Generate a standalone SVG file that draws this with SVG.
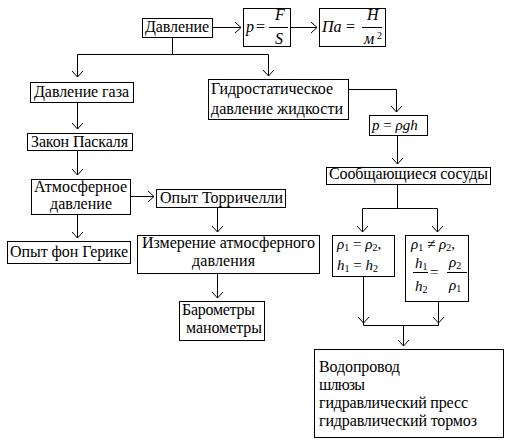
<svg xmlns="http://www.w3.org/2000/svg" width="526" height="446" viewBox="0 0 526 446">
<style>
rect{fill:#fff;stroke:#000;stroke-width:1}
text{font-family:"Liberation Serif","Times New Roman",serif;font-size:16px;fill:#000}
.i{font-style:italic}
.s{font-size:10px}
.m{font-size:15px}
.c path{fill:none;stroke:#000;stroke-width:1}
.bar{stroke:#000;stroke-width:1}
</style>
<defs>
<marker id="a" markerUnits="userSpaceOnUse" viewBox="-8 -8 16 16" markerWidth="16" markerHeight="16" refX="0" refY="0" orient="auto" overflow="visible">
<path d="M-6,-5.5 L0,0 L-6,5.5" fill="none" stroke="#000" stroke-width="1"/>
</marker>
</defs>
<rect width="526" height="446" style="stroke:none"/>
<g class="c" id="connectors">
<path d="M213,27.5 H241" marker-end="url(#a)"/>
<path d="M291,27.5 H317" marker-end="url(#a)"/>
<path d="M172.5,37.5 V54.5"/>
<path d="M172.5,54.5 H77.5 V77" marker-end="url(#a)"/>
<path d="M172.5,54.5 H268.5 V76" marker-end="url(#a)"/>
<path d="M77.5,103 V129" marker-end="url(#a)"/>
<path d="M77.5,151 V175" marker-end="url(#a)"/>
<path d="M77.5,215 V238" marker-end="url(#a)"/>
<path d="M131,196.5 H154" marker-end="url(#a)"/>
<path d="M217.5,208 V232" marker-end="url(#a)"/>
<path d="M217.5,274 V298" marker-end="url(#a)"/>
<path d="M349,89.5 H396.5 V112" marker-end="url(#a)"/>
<path d="M397.5,136 V164" marker-end="url(#a)"/>
<path d="M397.5,185 V208.5"/>
<path d="M397.5,208.5 H362.5 V232" marker-end="url(#a)"/>
<path d="M397.5,208.5 H437.5 V232" marker-end="url(#a)"/>
<path d="M363.5,277 V325.5 H438.5 V302"/>
<path d="M363.5,310 V323" marker-end="url(#a)"/>
<path d="M438.5,310 V323" marker-end="url(#a)"/>
<path d="M403.5,325.5 V346" marker-end="url(#a)"/>
</g>
<g id="n-davlenie"><rect x="142.5" y="18.5" width="70" height="19"/><text x="145" y="32" textLength="64">Давление</text></g>
<g id="n-formula-p"><rect x="243.5" y="8.5" width="47" height="38"/>
<text class="i" x="246" y="32">p</text><text x="256" y="32">=</text>
<text class="i" x="275" y="20">F</text><line class="bar" x1="269" y1="27.5" x2="288" y2="27.5"/><text class="i" x="275" y="44">S</text></g>
<g id="n-formula-pa"><rect x="319.5" y="8.5" width="66" height="38"/>
<text class="i" x="322" y="32">Па</text><text x="346" y="32">=</text>
<text class="i" x="367" y="20">Н</text><line class="bar" x1="362" y1="27.5" x2="382" y2="27.5"/><text class="i" x="364" y="44">м</text><text class="s" x="377" y="39">2</text></g>
<g id="n-gaz"><rect x="30.5" y="82.5" width="103" height="20"/><text x="34" y="97" textLength="95">Давление газа</text></g>
<g id="n-gidro"><rect x="208.5" y="79.5" width="140" height="40"/><text x="211" y="94" textLength="122">Гидростатическое</text><text x="211" y="114" textLength="132">давление жидкости</text></g>
<g id="n-pgh"><rect x="369.5" y="115.5" width="58" height="20"/><text class="m" x="372" y="130"><tspan class="i">p</tspan> = <tspan class="i">ρgh</tspan></text></g>
<g id="n-paskal"><rect x="27.5" y="133.5" width="105" height="17"/><text x="31" y="147" textLength="97">Закон Паскаля</text></g>
<g id="n-soobsh"><rect x="326.5" y="167.5" width="164" height="17"/><text x="329" y="179" textLength="159">Сообщающиеся сосуды</text></g>
<g id="n-atm"><rect x="31.5" y="179.5" width="99" height="35"/><text x="34" y="192" textLength="93">Атмосферное</text><text x="50" y="209" textLength="62">давление</text></g>
<g id="n-torr"><rect x="156.5" y="189.5" width="129" height="18"/><text x="160" y="203" textLength="123">Опыт Торричелли</text></g>
<g id="n-izm"><rect x="137.5" y="235.5" width="182" height="38"/><text x="142" y="248" textLength="173">Измерение атмосферного</text><text x="192" y="266" textLength="63">давления</text></g>
<g id="n-gerike"><rect x="7.5" y="241.5" width="123" height="22"/><text x="10" y="257" textLength="118">Опыт фон Герике</text></g>
<g id="n-eq"><rect x="332.5" y="235.5" width="62" height="41"/>
<text class="m" x="337" y="249"><tspan class="i">ρ</tspan><tspan class="s" dy="2">1</tspan><tspan dy="-2"> = </tspan><tspan class="i">ρ</tspan><tspan class="s" dy="2">2</tspan><tspan dy="-2">,</tspan></text>
<text class="m" x="337" y="270"><tspan class="i">h</tspan><tspan class="s" dy="2">1</tspan><tspan dy="-2"> = </tspan><tspan class="i">h</tspan><tspan class="s" dy="2">2</tspan></text></g>
<g id="n-neq"><rect x="405.5" y="235.5" width="63" height="66"/>
<text class="m" x="411" y="249"><tspan class="i">ρ</tspan><tspan class="s" dy="2">1</tspan><tspan dy="-2"> ≠ </tspan><tspan class="i">ρ</tspan><tspan class="s" dy="2">2</tspan><tspan dy="-2">,</tspan></text>
<text class="m" x="415" y="268"><tspan class="i">h</tspan><tspan class="s" dy="2">1</tspan></text>
<line class="bar" x1="413" y1="272.5" x2="428" y2="272.5"/>
<text class="m" x="415" y="291"><tspan class="i">h</tspan><tspan class="s" dy="2">2</tspan></text>
<text class="m" x="430" y="277">=</text>
<text class="m" x="449" y="267"><tspan class="i">ρ</tspan><tspan class="s" dy="2">2</tspan></text>
<line class="bar" x1="447" y1="272.5" x2="467" y2="272.5"/>
<text class="m" x="449" y="290"><tspan class="i">ρ</tspan><tspan class="s" dy="2">1</tspan></text></g>
<g id="n-baro"><rect x="179.5" y="301.5" width="85" height="39"/><text x="182" y="315" textLength="73">Барометры</text><text x="186" y="333" textLength="76">манометры</text></g>
<g id="n-vodo"><rect x="314.5" y="349.5" width="189" height="88"/>
<text x="319" y="372" textLength="81">Водопровод</text>
<text x="319" y="390" textLength="46">шлюзы</text>
<text x="319" y="408" textLength="149">гидравлический пресс</text>
<text x="319" y="426" textLength="158">гидравлический тормоз</text></g>
</svg>
